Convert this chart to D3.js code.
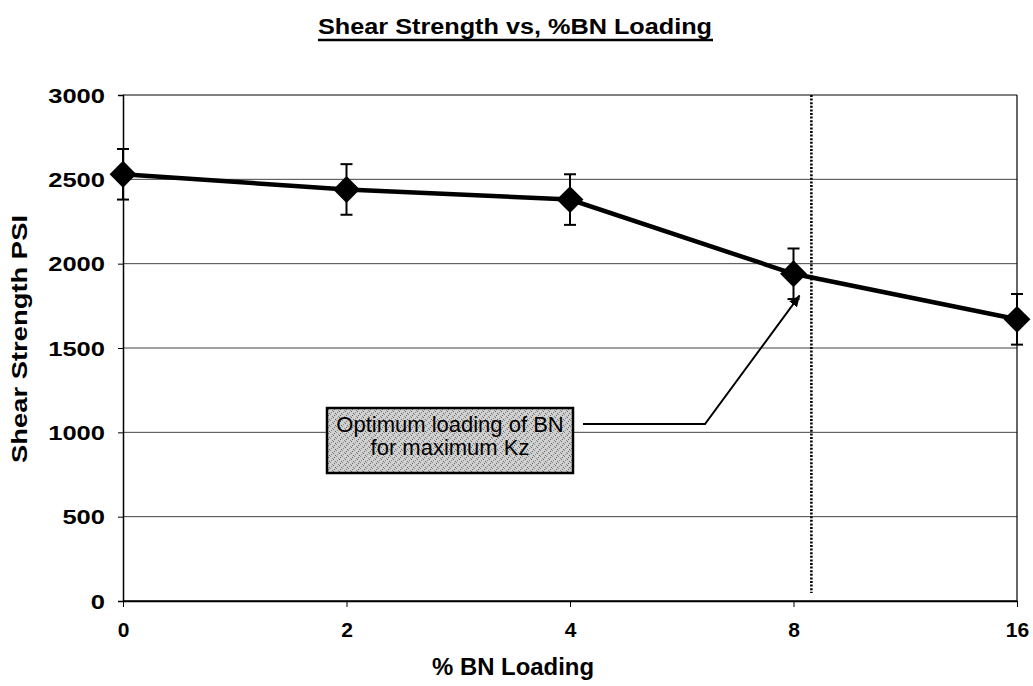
<!DOCTYPE html>
<html><head><meta charset="utf-8">
<script src="https://cdn.jsdelivr.net/npm/d3@7/dist/d3.min.js"></script>
<style>body{margin:0;background:#fff}svg{display:block}text{font-family:"Liberation Sans",Arial,sans-serif;font-weight:bold;fill:#000}</style>
</head><body><svg id="c" width="1033" height="686"></svg>
<script>
const categories = ["0","2","4","8","16"];
const shear = [2530, 2440, 2380, 1940, 1670];
const errorPlus = [150, 150, 150, 150, 150];
const yTicks = [0, 500, 1000, 1500, 2000, 2500, 3000];
const optimumX = 3.08; // in category-index units, just right of "8"
const annotationLines = ["Optimum loading of BN", "for maximum Kz"];

const svg = d3.select("#c");
const m = {l:123, r:1017, t:95, b:601};
const x = d3.scalePoint().domain(categories).range([m.l, m.r]);
const xi = d3.scaleLinear().domain([0, categories.length-1]).range([m.l, m.r]);
const y = d3.scaleLinear().domain([0, 3000]).range([m.b, m.t]);

const defs = svg.append("defs");
const pat = defs.append("pattern").attr("id","stip").attr("width",6).attr("height",6).attr("patternUnits","userSpaceOnUse");
pat.append("rect").attr("width",6).attr("height",6).attr("fill","#d0d0d0");
[[0,0],[3,3],[1,4],[4,1],[2,2],[5,5]].forEach(([a,b],i)=>pat.append("rect").attr("x",a).attr("y",b).attr("width",1).attr("height",1).attr("fill", i%2?"#666":"#8a8a8a"));
defs.append("marker").attr("id","arr").attr("viewBox","0 0 10 10").attr("refX",9).attr("refY",5)
  .attr("markerWidth",6).attr("markerHeight",6).attr("orient","auto")
  .append("path").attr("d","M0,1L10,5L0,9z").attr("fill","#000");

svg.append("g").selectAll("line").data(yTicks).join("line")
  .attr("x1", m.l).attr("x2", m.r).attr("y1", d=>y(d)).attr("y2", d=>y(d))
  .attr("stroke", d=> d===3000||d===0 ? "#000" : "#444").attr("stroke-width", d=>d===0?1.5:1);

svg.append("line").attr("x1",m.r).attr("x2",m.r).attr("y1",m.t).attr("y2",m.b).attr("stroke","#000").attr("stroke-width",1.2);

const ya = svg.append("g").attr("transform",`translate(${m.l},0)`)
  .call(d3.axisLeft(y).tickValues(yTicks).tickSize(5).tickFormat(d3.format("d")));
ya.select(".domain").attr("stroke","#000").attr("stroke-width",1.5);
ya.selectAll("text").style("font-size","20px").attr("x",-18).attr("dy","0.35em").style("font-weight","bold")
  .attr("textLength", d=>String(d).length*14.2).attr("lengthAdjust","spacingAndGlyphs");
ya.selectAll(".tick line").attr("stroke","#000");

const xa = svg.append("g").attr("transform",`translate(0,${m.b})`)
  .call(d3.axisBottom(x).tickSize(6).tickSizeOuter(0));
xa.select(".domain").attr("stroke","#000").attr("stroke-width",1.5);
xa.selectAll("text").style("font-size","21px").attr("y",21).attr("dy","0.71em").style("font-weight","bold");

svg.append("line").attr("x1",xi(optimumX)).attr("x2",xi(optimumX)).attr("y1",m.t).attr("y2",m.b-8)
  .attr("stroke","#000").attr("stroke-width",2.6).attr("stroke-dasharray","2,1.6");

const eb = svg.append("g").attr("stroke","#000").attr("stroke-width",2);
categories.forEach((c,i)=>{
  eb.append("line").attr("x1",x(c)).attr("x2",x(c)).attr("y1",y(shear[i]+errorPlus[i])).attr("y2",y(shear[i]-errorPlus[i]));
  [shear[i]+errorPlus[i], shear[i]-errorPlus[i]].forEach(v=>
    eb.append("line").attr("x1",x(c)-6).attr("x2",x(c)+6).attr("y1",y(v)).attr("y2",y(v)));
});

svg.append("path").datum(categories.map((c,i)=>[x(c), y(shear[i])]))
  .attr("d", d3.line()).attr("fill","none").attr("stroke","#000").attr("stroke-width",4.5);

svg.append("g").selectAll("path").data(categories).join("path")
  .attr("d", d3.symbol(d3.symbolDiamond2, 460)).attr("transform",(c,i)=>`translate(${x(c)},${y(shear[i])})`).attr("fill","#000");

const bx=327, by=408, bw=246, bh=65;
svg.append("rect").attr("x",bx).attr("y",by).attr("width",bw).attr("height",bh).attr("fill","url(#stip)").attr("stroke","#000").attr("stroke-width",2.5);
svg.append("text").attr("text-anchor","middle").attr("font-size",22).style("font-weight","normal")
  .selectAll("tspan").data(annotationLines).join("tspan").attr("x",bx+bw/2).attr("y",(d,i)=>by+24+i*23).text(d=>d);
svg.append("path").attr("d",`M583,424L705,424L${x("8")+6},${y(1810)}`).attr("fill","none").attr("stroke","#000").attr("stroke-width",2).attr("marker-end","url(#arr)");

svg.append("text").attr("x",515).attr("y",34).attr("text-anchor","middle").attr("font-size",22)
  .attr("textLength",394).attr("lengthAdjust","spacingAndGlyphs").text("Shear Strength vs, %BN Loading");
svg.append("line").attr("x1",318).attr("x2",713).attr("y1",40).attr("y2",40).attr("stroke","#000").attr("stroke-width",2.5);

svg.append("text").attr("x",513).attr("y",675).attr("text-anchor","middle").attr("font-size",23)
  .attr("textLength",162).attr("lengthAdjust","spacingAndGlyphs").text("% BN Loading");
svg.append("text").attr("transform","translate(27,339) rotate(-90)").attr("text-anchor","middle").attr("font-size",22)
  .attr("textLength",248).attr("lengthAdjust","spacingAndGlyphs").text("Shear Strength PSI");
</script></body></html>
